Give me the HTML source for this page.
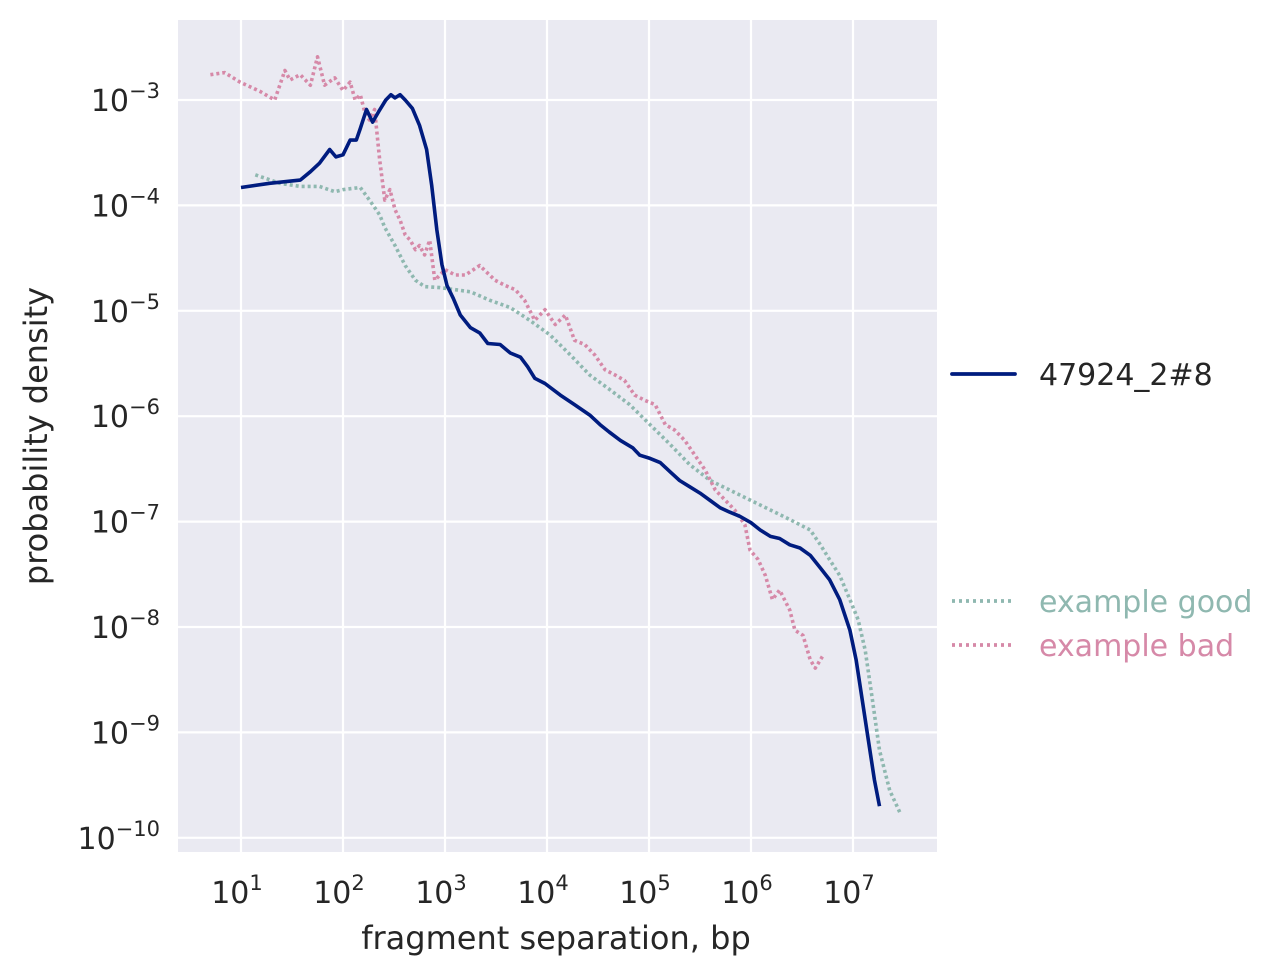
<!DOCTYPE html>
<html><head><meta charset="utf-8"><style>
html,body{margin:0;padding:0;background:#fff;}
svg{display:block;font-family:"DejaVu Sans","Liberation Sans",sans-serif;}
</style></head><body>
<svg id="chart" width="1283" height="976" viewBox="0 0 1283 976" xmlns="http://www.w3.org/2000/svg">
<rect x="178" y="20" width="759" height="832" fill="#eaeaf2"/>
<g id="grid"></g>
<g id="series"></g>
<g id="ticks"></g>
<text x="556" y="949" font-size="32" fill="#262626" text-anchor="middle">fragment separation, bp</text>
<text transform="translate(47,436) rotate(-90)" font-size="32" fill="#262626" text-anchor="middle">probability density</text>
<g>
<line x1="952" y1="374" x2="1015" y2="374" stroke="#001c7f" stroke-width="3.8" stroke-linecap="round"/>
<text x="1039" y="385" font-size="30" fill="#262626">47924_2#8</text>
<line x1="952" y1="601" x2="1015" y2="601" stroke="#8fb8b0" stroke-width="3.8" stroke-dasharray="3,4"/>
<text x="1039" y="612" font-size="30" fill="#8fb8b0">example good</text>
<line x1="952" y1="645" x2="1015" y2="645" stroke="#d689a8" stroke-width="3.8" stroke-dasharray="3,4"/>
<text x="1039" y="656" font-size="30" fill="#d689a8">example bad</text>
</g>
</svg>
<script>
// values stored as log10 exponents
const sampleLogX=[1.00,1.28,1.58,1.68,1.77,1.87,1.93,2.00,2.07,2.13,2.17,2.23,2.29,2.35,2.42,2.47,2.51,2.56,2.61,2.68,2.75,2.82,2.87,2.92,2.97,3.02,3.08,3.15,3.25,3.34,3.42,3.54,3.64,3.74,3.81,3.88,3.98,4.13,4.27,4.42,4.52,4.61,4.72,4.84,4.91,5.01,5.11,5.21,5.30,5.40,5.50,5.60,5.70,5.79,5.89,6.00,6.09,6.19,6.28,6.38,6.48,6.58,6.68,6.77,6.87,6.97,7.03,7.09,7.15,7.21,7.26];
const sampleLogY=[-3.83,-3.79,-3.76,-3.68,-3.60,-3.47,-3.54,-3.52,-3.38,-3.38,-3.27,-3.09,-3.21,-3.11,-3.00,-2.95,-2.98,-2.95,-3.00,-3.08,-3.24,-3.47,-3.81,-4.23,-4.56,-4.76,-4.88,-5.04,-5.16,-5.21,-5.31,-5.32,-5.40,-5.44,-5.53,-5.64,-5.69,-5.80,-5.89,-5.99,-6.08,-6.15,-6.23,-6.30,-6.37,-6.40,-6.44,-6.53,-6.61,-6.67,-6.73,-6.80,-6.87,-6.91,-6.95,-7.01,-7.08,-7.14,-7.16,-7.22,-7.25,-7.32,-7.44,-7.55,-7.74,-8.03,-8.31,-8.69,-9.07,-9.45,-9.70];
const goodLogX=[1.14,1.38,1.58,1.77,1.92,2.00,2.17,2.26,2.36,2.41,2.51,2.61,2.71,2.80,2.95,3.10,3.25,3.44,3.64,3.83,4.03,4.23,4.42,4.62,4.81,5.01,5.21,5.40,5.60,5.79,6.00,6.19,6.38,6.58,6.68,6.77,6.87,6.97,7.05,7.12,7.19,7.26,7.36,7.46];
const goodLogY=[-3.71,-3.79,-3.82,-3.82,-3.87,-3.85,-3.83,-3.95,-4.09,-4.21,-4.38,-4.57,-4.71,-4.77,-4.78,-4.80,-4.82,-4.90,-4.97,-5.09,-5.23,-5.42,-5.61,-5.75,-5.89,-6.08,-6.27,-6.46,-6.61,-6.70,-6.80,-6.89,-6.98,-7.08,-7.22,-7.36,-7.51,-7.74,-7.93,-8.22,-8.69,-9.17,-9.55,-9.76];
const badLogX=[0.70,0.84,0.99,1.19,1.33,1.38,1.43,1.48,1.58,1.68,1.75,1.82,1.92,2.00,2.07,2.12,2.17,2.22,2.26,2.31,2.36,2.41,2.46,2.51,2.56,2.61,2.66,2.71,2.75,2.80,2.85,2.90,2.95,3.00,3.10,3.20,3.34,3.49,3.59,3.69,3.78,3.88,3.98,4.08,4.18,4.27,4.37,4.47,4.57,4.67,4.76,4.86,4.96,5.06,5.16,5.25,5.35,5.45,5.55,5.65,5.75,5.84,5.94,5.99,6.07,6.14,6.21,6.28,6.38,6.43,6.51,6.58,6.63,6.70];
const badLogY=[-2.76,-2.74,-2.83,-2.92,-3.00,-2.86,-2.72,-2.81,-2.76,-2.86,-2.59,-2.86,-2.79,-2.91,-2.83,-3.00,-2.95,-3.14,-3.19,-3.09,-3.57,-3.95,-3.85,-4.04,-4.14,-4.28,-4.33,-4.42,-4.38,-4.47,-4.33,-4.71,-4.66,-4.61,-4.66,-4.66,-4.57,-4.71,-4.76,-4.80,-4.90,-5.09,-4.99,-5.13,-5.04,-5.28,-5.32,-5.42,-5.56,-5.61,-5.66,-5.80,-5.85,-5.89,-6.08,-6.13,-6.23,-6.37,-6.51,-6.70,-6.80,-6.89,-7.03,-7.27,-7.36,-7.51,-7.74,-7.65,-7.84,-8.03,-8.08,-8.31,-8.39,-8.28];
const xTickExp=[1,2,3,4,5,6,7];
const yTickExp=[-3,-4,-5,-6,-7,-8,-9,-10];

const NS="http://www.w3.org/2000/svg";
const sx=e=>241+(e-1)*102;
const sy=e=>100+(-3-e)*105.4;
function mk(tag,attrs,parent){const el=document.createElementNS(NS,tag);for(const k in attrs)el.setAttribute(k,attrs[k]);document.getElementById(parent).appendChild(el);return el;}

xTickExp.forEach(e=>{
  const g=mk('line',{x1:sx(e),x2:sx(e),y1:20,y2:852,stroke:'#fff','stroke-width':2.2},'grid');
  
  
  const t=mk('text',{x:sx(e)-4,y:903,'font-size':30,fill:'#262626','text-anchor':'middle'},'ticks');
  
  
  t.innerHTML='10<tspan dy="-13" font-size="21">'+e+'</tspan>';
});
yTickExp.forEach(e=>{
  const g=mk('line',{x1:178,x2:937,y1:sy(e),y2:sy(e),stroke:'#fff','stroke-width':2.2},'grid');
  
  
  const t=mk('text',{x:160,y:sy(e)+11,'font-size':30,fill:'#262626','text-anchor':'end'},'ticks');
  
  
  t.innerHTML='10<tspan dy="-13" font-size="21">\u2212'+Math.abs(e)+'</tspan>';
});
function line(xs,ys,color,dash,name){
  const d=xs.map((x,i)=>(i?'L':'M')+sx(x).toFixed(1)+','+sy(ys[i]).toFixed(1)).join('');
  const attrs={d:d,fill:'none',stroke:color,'stroke-width':3.6,'stroke-linejoin':'round'};
  if(dash)attrs['stroke-dasharray']=dash;
  const p=mk('path',attrs,'series');
  
  
}
line(goodLogX,goodLogY,'#8fb8b0','3,3','series-example-good');
line(badLogX,badLogY,'#d689a8','3,3','series-example-bad');
line(sampleLogX,sampleLogY,'#001c7f',null,'series-47924-2-8');
</script>
</body></html>
